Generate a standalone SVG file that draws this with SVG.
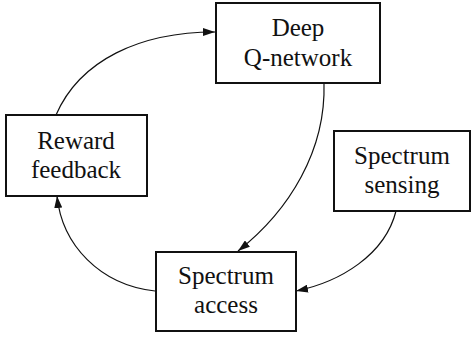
<svg xmlns="http://www.w3.org/2000/svg" width="472" height="339" viewBox="0 0 472 339">
<style>
.box{fill:#fff;stroke:#111;stroke-width:2}
.lbl{font-family:'Liberation Serif','Times New Roman',Times,'DejaVu Serif',serif;font-size:25px;fill:#111;text-anchor:middle}
.edge{fill:none;stroke:#111;stroke-width:1.2}
</style>
<defs>
<marker id="arr" viewBox="0 0 12 8" refX="12" refY="4" markerWidth="12" markerHeight="8" markerUnits="userSpaceOnUse" orient="auto">
<path d="M0,0 L12,4 L0,8 Z" fill="#111"/>
</marker>
</defs>
<rect width="472" height="339" fill="#fff"/>
<g id="connectors">
<path class="edge" d="M56,115 C80,60 140,32 215,32" marker-end="url(#arr)"/>
<path class="edge" d="M324,83 C326,150 290,210 238,251" marker-end="url(#arr)"/>
<path class="edge" d="M396,211 C385,255 340,282 296,291" marker-end="url(#arr)"/>
<path class="edge" d="M155,291 C100,285 62,245 57,196" marker-end="url(#arr)"/>
</g>
<g id="deep-q-network">
<rect class="box" x="216" y="3" width="164" height="80"/>
<text class="lbl" x="298" y="36" font-family="Liberation Serif, serif">Deep</text>
<text class="lbl" x="298" y="66" font-family="Liberation Serif, serif">Q-network</text>
</g>
<g id="reward-feedback">
<rect class="box" x="6" y="115" width="141" height="81"/>
<text class="lbl" x="76" y="149">Reward</text>
<text class="lbl" x="76" y="178">feedback</text>
</g>
<g id="spectrum-sensing">
<rect class="box" x="334" y="131" width="136" height="80"/>
<text class="lbl" x="402" y="164">Spectrum</text>
<text class="lbl" x="402" y="193">sensing</text>
</g>
<g id="spectrum-access">
<rect class="box" x="156" y="252" width="140" height="79"/>
<text class="lbl" x="226" y="284">Spectrum</text>
<text class="lbl" x="226" y="313">access</text>
</g>
</svg>
